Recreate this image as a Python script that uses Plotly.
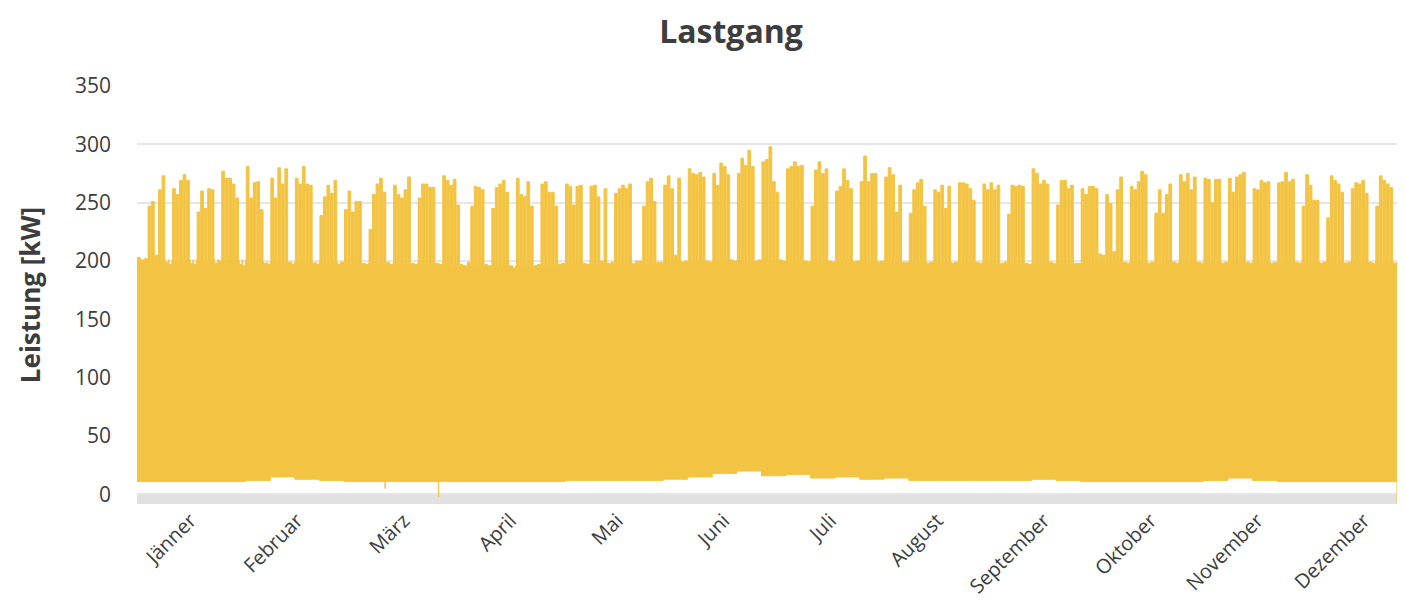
import numpy as np
import plotly.graph_objects as go

# ---------------- data ----------------
YEAR_START = np.datetime64("2021-01-01T00:00")

month_labels = ["Jänner", "Februar", "März", "April", "Mai", "Juni", "Juli",
                "August", "September", "Oktober", "November", "Dezember"]

# daily peak load [kW] (weekdays: daytime peak, weekends/holidays: day level)
peak_jan = [203, 201, 202, 247, 251, 205, 261, 273, 199, 197, 262, 257, 269, 274, 269, 198, 197,
            242, 260, 245, 262, 261, 198, 200, 277, 271, 271, 266, 254, 197, 196]
peak_feb = [281, 254, 267, 268, 244, 198, 197, 271, 254, 280, 266, 279, 199, 197,
            271, 266, 281, 266, 265, 198, 197, 239, 255, 265, 258, 269, 197, 199]
peak_mar = [244, 260, 242, 251, 251, 198, 197, 227, 257, 266, 271, 259, 199, 197,
            265, 257, 254, 261, 272, 198, 197, 254, 266, 266, 263, 263, 198, 197, 273, 269, 265]
peak_apr = [270, 248, 197, 196, 199, 247, 264, 263, 261, 197, 196, 245, 263, 266, 269, 259, 196, 194,
            271, 257, 255, 268, 247, 196, 197, 266, 268, 259, 259, 247]
peak_may = [197, 198, 266, 264, 248, 264, 265, 198, 197, 264, 265, 255, 200, 262, 198, 199,
            258, 262, 265, 262, 266, 198, 200, 200, 247, 268, 271, 251, 199, 199, 265]
peak_jun = [273, 262, 205, 271, 199, 200, 279, 275, 274, 276, 272, 200, 199, 275, 265, 284, 281, 274,
            201, 200, 275, 288, 282, 295, 281, 200, 201, 285, 287, 298]
peak_jul = [268, 259, 201, 200, 279, 281, 285, 281, 282, 200, 199, 247, 278, 285, 275, 279, 200, 199,
            260, 264, 279, 269, 262, 199, 200, 268, 290, 268, 275, 275, 199]
peak_aug = [200, 272, 280, 274, 242, 265, 199, 199, 241, 261, 267, 270, 247, 198, 199,
            261, 259, 265, 245, 264, 198, 199, 267, 267, 266, 262, 252, 199, 198, 266, 261]
peak_sep = [267, 261, 265, 198, 199, 240, 265, 264, 265, 264, 198, 197, 279, 275, 266, 269, 266, 199, 198,
            248, 269, 269, 262, 265, 198, 198, 262, 257, 264, 264]
peak_oct = [262, 206, 205, 257, 249, 208, 261, 272, 199, 198, 264, 261, 268, 277, 274, 198, 199,
            241, 261, 241, 257, 266, 199, 198, 274, 268, 275, 261, 272, 199, 198]
peak_nov = [271, 270, 250, 270, 270, 198, 199, 271, 259, 272, 274, 276, 199, 198,
            262, 261, 269, 267, 268, 198, 199, 267, 268, 276, 268, 270, 199, 198, 247, 274]
peak_dec = [265, 252, 252, 198, 199, 237, 273, 269, 266, 259, 198, 199, 262, 267, 266, 269, 258, 199, 198,
            247, 273, 269, 266, 263, 198, 199, 272, 258, 265, 264, 200]

# night level of the load band per month [kW]
night_kw = [201, 199, 198, 196, 198, 200, 200, 199, 198, 199, 199, 199]

# lowest load per calendar week (week 0 = 1-3 Jan) [kW]
floor_kw = [11, 11, 11, 11, 11, 12, 15, 13, 12, 11, 11, 11, 11, 11, 11, 11, 11, 11,
            12, 12, 12, 12, 13, 15, 18, 20, 16, 17, 14, 15, 13, 14, 12, 12, 12, 12,
            12, 13, 12, 11, 11, 11, 11, 11, 12, 14, 12, 11, 11, 11, 11, 11, 11]

# single short drops of the load (day of year, kW)
dip_day = [70.7, 85.9, 359.2]
dip_kw = [5, -2, -7]

y_ticks = [0, 50, 100, 150, 200, 250, 300, 350]

# ---------------- build the series ----------------
YELLOW = "#F3C444"
TEXT = "#3d3d3d"

peaks = [peak_jan, peak_feb, peak_mar, peak_apr, peak_may, peak_jun,
         peak_jul, peak_aug, peak_sep, peak_oct, peak_nov, peak_dec]
month_len = [len(p) for p in peaks]
peak = np.concatenate(peaks)
n_days = len(peak)
night = np.repeat(np.array(night_kw), month_len)
floor = np.array(floor_kw)[(np.arange(n_days) + 4) // 7]

ux, uy = [], []
for d in range(n_days):
    ux += [d, d + 0.15, d + 0.93]
    uy += [night[d], peak[d], night[d]]
ux.append(n_days)
uy.append(night[-1])

lpts = [(float(d), float(floor[d])) for d in range(n_days)]
for dd, v in zip(dip_day, dip_kw):
    lpts.append((dd, float(v)))
    lpts.append((dd + 0.08, float(floor[int(dd)])))
lpts.append((float(n_days), float(floor[-1])))
lpts.sort()
lx = [p[0] for p in lpts]
ly = [p[1] for p in lpts]


def to_dt(days):
    return YEAR_START + (np.asarray(days) * 1440).round().astype("timedelta64[m]")


fig = go.Figure()
fig.add_trace(go.Scatter(x=to_dt(lx), y=ly, mode="lines",
                         line=dict(color=YELLOW, width=1, shape="hv"),
                         hoverinfo="skip", showlegend=False))
fig.add_trace(go.Scatter(x=to_dt(ux), y=uy, mode="lines", fill="tonexty",
                         fillcolor=YELLOW, line=dict(color=YELLOW, width=1, shape="hv"),
                         name="Leistung", showlegend=False))

tick_days = [(i + 0.5) * 365 / 12 for i in range(12)]

fig.add_shape(type="rect", xref="paper", x0=0, x1=1, yref="y", y0=-8.2, y1=0,
              fillcolor="#e1e1e1", line=dict(width=0), layer="below")

# page body has an 8px margin: figure spans 8..1405 x 8..602
fig.update_layout(
    width=1397, height=594,
    margin=dict(l=129, r=0, t=78, b=98),
    paper_bgcolor="white", plot_bgcolor="white",
    title=dict(text="<b>Lastgang</b>", x=723 / 1397, xref="container", xanchor="center",
               y=1 - 24 / 594, yref="container", yanchor="middle",
               font=dict(family="Open Sans", size=32, color=TEXT)),
    font=dict(family="Open Sans", color=TEXT),
)
fig.update_xaxes(type="date", range=[to_dt(0), to_dt(1268 / 3.508)],
                 tickvals=list(to_dt(tick_days)), ticktext=month_labels,
                 tickangle=-45, tickfont=dict(size=20, color=TEXT, family="Open Sans"),
                 automargin=False,
                 showgrid=False, zeroline=False, showline=False, ticks="")
fig.update_yaxes(range=[-8.2, 350], tickvals=y_ticks, showgrid=True, gridcolor="#e6e6e6",
                 gridwidth=1.5, zeroline=False, showline=False, ticks="",
                 ticklabelstandoff=25, automargin=False,
                 tickfont=dict(size=21, color=TEXT, family="Open Sans"),
                 title=dict(text="<b>Leistung [kW]</b>", standoff=26,
                            font=dict(size=26, family="Open Sans", color=TEXT)))

fig.write_html("out.html")
